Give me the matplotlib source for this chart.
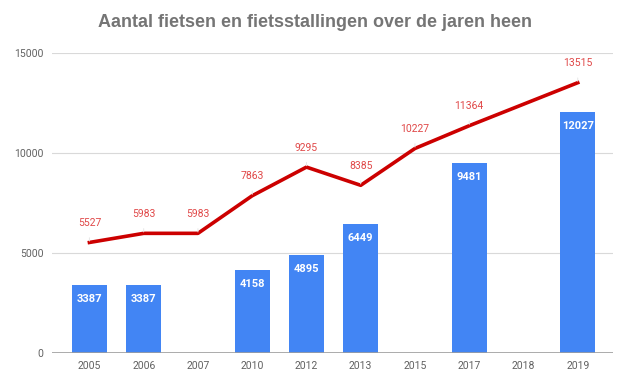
import matplotlib.pyplot as plt
import numpy as np

jaren = ["2005", "2006", "2007", "2010", "2012", "2013", "2015", "2017", "2018", "2019"]
stallingen = [3387, 3387, None, 4158, 4895, 6449, None, 9481, None, 12027]
fietsen = [5527, 5983, 5983, 7863, 9295, 8385, 10227, 11364, None, 13515]

plt.rcParams['font.family'] = ['Roboto', 'DejaVu Sans']

fig = plt.figure(figsize=(6.26, 3.83), dpi=100)
ax = fig.add_axes([52 / 626, 30 / 383, 561 / 626, 300 / 383])

x = np.arange(len(jaren))

# staven (fietsstallingen)
for i, v in enumerate(stallingen):
    if v is None:
        continue
    ax.bar(i, v, width=0.65, color="#4285f4", zorder=2)
    ax.annotate(str(v), (i, v), xytext=(0, -10), textcoords="offset points",
                ha="center", va="center", color="white", fontsize=8, fontweight="bold")

# lijn (fietsen), 2018 ontbreekt
lx = [i for i, v in enumerate(fietsen) if v is not None]
ly = [v for v in fietsen if v is not None]
ax.plot(lx, ly, color="#cc0000", lw=2.6, zorder=3, solid_joinstyle="round")
for i, v in zip(lx, ly):
    ax.annotate(str(v), (i, v), xytext=(0, 14), textcoords="offset points",
                ha="center", va="center", color="#e04848", fontsize=7.5,
                arrowprops=dict(arrowstyle="-", color="#e6e6e6", lw=0.7,
                                shrinkA=5, shrinkB=1))

ax.set_xlim(-0.69, 9.65)
ax.set_ylim(0, 15000)
ax.set_yticks([0, 5000, 10000, 15000])
ax.set_xticks(x)
ax.set_xticklabels(jaren)
ax.grid(axis="y", color="#d9d9d9", lw=0.8, zorder=0)
ax.axhline(0, color="#9e9e9e", lw=1.2, zorder=4)
for s in ax.spines.values():
    s.set_visible(False)
ax.tick_params(length=0, colors="#616161", labelsize=7.5)
ax.tick_params(axis="x", pad=6)
ax.tick_params(axis="y", pad=6)

fig.text(0.503, 0.940, "Aantal fietsen en fietsstallingen over de jaren heen",
         ha="center", va="center", fontsize=13, fontweight="bold",
         color="#757575", family=["Liberation Sans", "DejaVu Sans"])

fig.savefig("out.png", dpi=100)
